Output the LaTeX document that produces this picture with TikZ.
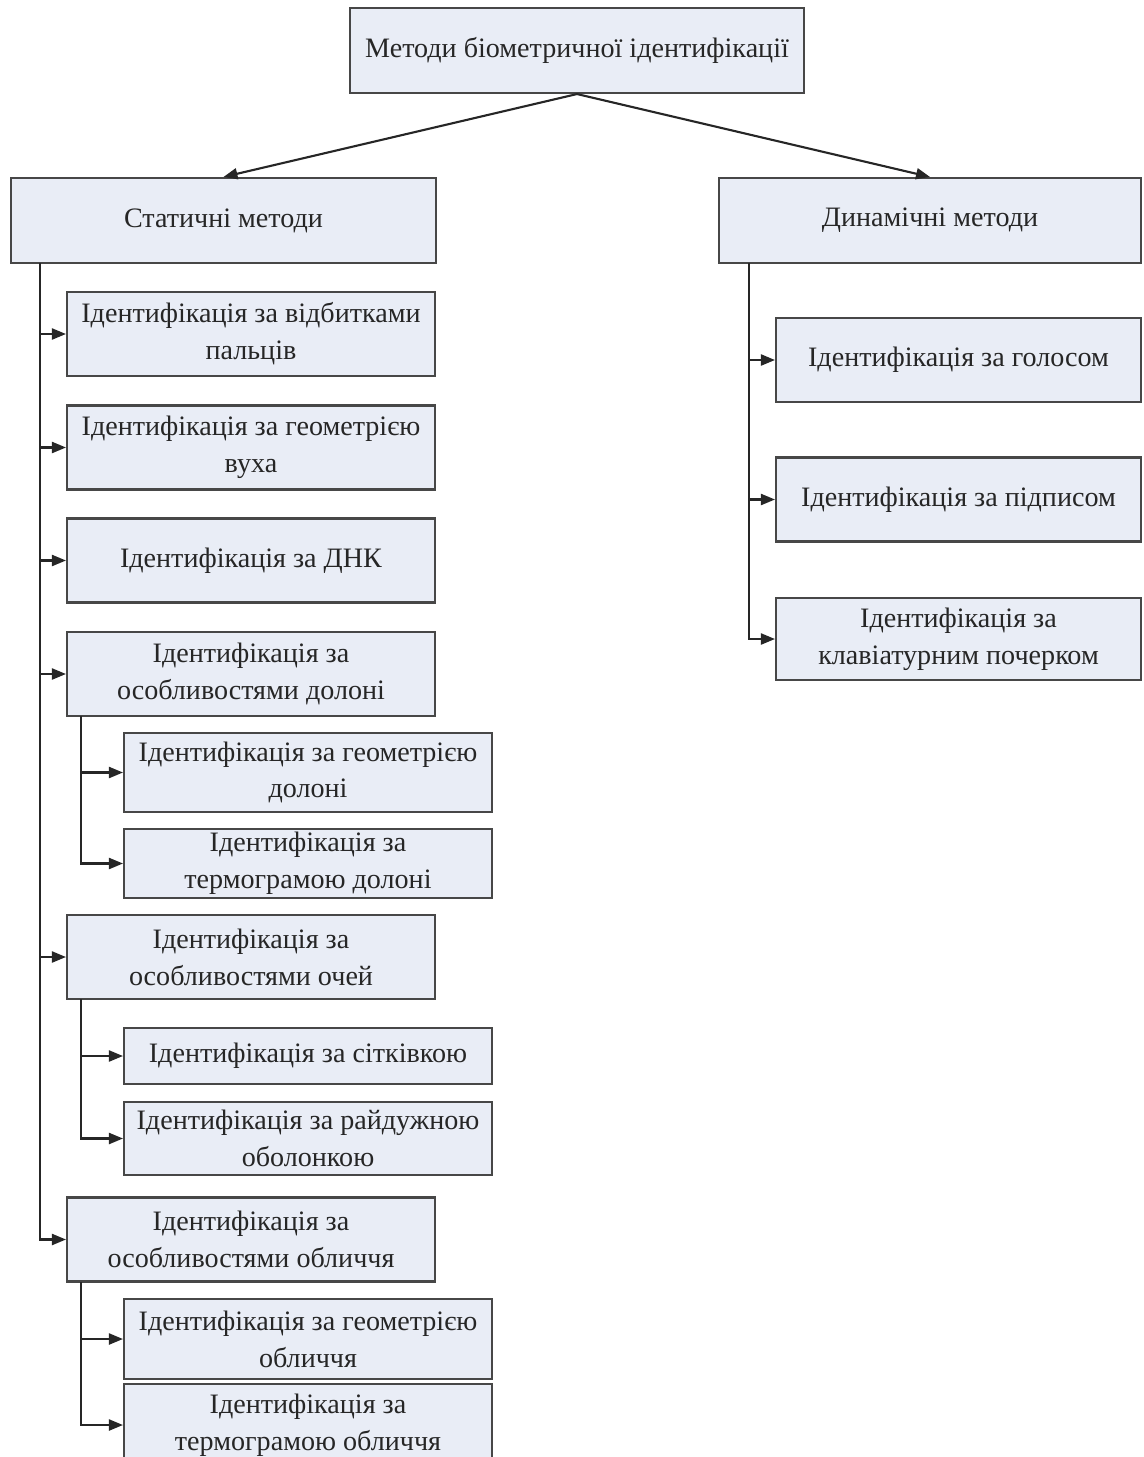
\documentclass[tikz,border=0pt]{standalone}
\usepackage{fontspec}
\setmainfont{Liberation Serif}
\usetikzlibrary{arrows.meta}
\definecolor{boxfill}{HTML}{E9EDF6}
\definecolor{boxline}{HTML}{474747}
\begin{document}
\begin{tikzpicture}[
    x=0.02cm, y=-0.02cm,
    mbox/.style={rectangle, draw=boxline, fill=boxfill, line width=1.2pt,
        minimum height=1.68cm, inner sep=1pt, align=center,
        text=black!85, font=\fontsize{16}{21}\selectfont},
    arr/.style={draw=black!85, line width=1.2pt, -{Triangle[length=2.8mm, width=2.2mm]}}
]
    % Bounding box first, so the cut-off bottom box stays cut off
    \useasboundingbox (0, 0) rectangle (1143, 1457);

    % --- Root ---
    \node[mbox, minimum width=9.08cm, minimum height=1.7cm] (root) at (577, 50.5) {Методи біометричної ідентифікації};

    % --- Static methods ---
    \node[mbox, minimum width=8.5cm, minimum height=1.7cm] (st) at (223.5, 220.5) {Статичні методи};
    \node[mbox, minimum width=7.36cm] (st1) at (251, 334) {Ідентифікація за відбитками\\пальців};
    \node[mbox, minimum width=7.36cm] (st2) at (251, 447.5) {Ідентифікація за геометрією\\вуха};
    \node[mbox, minimum width=7.36cm] (st3) at (251, 560.5) {Ідентифікація за ДНК};
    \node[mbox, minimum width=7.36cm] (st4) at (251, 674) {Ідентифікація за\\особливостями долоні};
    \node[mbox, minimum width=7.36cm, minimum height=1.58cm] (st4a) at (308, 772.5) {Ідентифікація за геометрією\\долоні};
    \node[mbox, minimum width=7.36cm, minimum height=1.38cm] (st4b) at (308, 863.5) {Ідентифікація за\\термограмою долоні};
    \node[mbox, minimum width=7.36cm] (st5) at (251, 957) {Ідентифікація за\\особливостями очей};
    \node[mbox, minimum width=7.36cm, minimum height=1.12cm] (st5a) at (308, 1056) {Ідентифікація за сітківкою};
    \node[mbox, minimum width=7.36cm, minimum height=1.46cm] (st5b) at (308, 1138.5) {Ідентифікація за райдужною\\оболонкою};
    \node[mbox, minimum width=7.36cm] (st6) at (251, 1239.5) {Ідентифікація за\\особливостями обличчя};
    \node[mbox, minimum width=7.36cm, minimum height=1.6cm] (st6a) at (308, 1339) {Ідентифікація за геометрією\\обличчя};
    \node[mbox, minimum width=7.36cm, minimum height=1.64cm] (st6b) at (308, 1425) {Ідентифікація за\\термограмою обличчя};

    % --- Dynamic methods ---
    \node[mbox, minimum width=8.44cm, minimum height=1.7cm] (dy) at (930, 220.5) {Динамічні методи};
    \node[mbox, minimum width=7.3cm] (dy1) at (958.5, 360) {Ідентифікація за голосом};
    \node[mbox, minimum width=7.3cm] (dy2) at (958.5, 499.5) {Ідентифікація за підписом};
    \node[mbox, minimum width=7.3cm, minimum height=1.64cm] (dy3) at (958.5, 639) {Ідентифікація за\\клавіатурним почерком};

    % trunk starts
    \coordinate (stT) at (40, 263);
    \coordinate (st4T) at (81, 716);
    \coordinate (st5T) at (81, 999);
    \coordinate (st6T) at (81, 1282);
    \coordinate (dyT) at (749, 263);

    \draw[arr] (root.south) -- (st.north);
    \draw[arr] (root.south) -- (dy.north);

    \foreach \n in {st1, st2, st3, st4, st5, st6}
        \draw[arr] (stT) |- (\n.west);
    \foreach \n in {st4a, st4b}
        \draw[arr] (st4T) |- (\n.west);
    \foreach \n in {st5a, st5b}
        \draw[arr] (st5T) |- (\n.west);
    \foreach \n in {st6a, st6b}
        \draw[arr] (st6T) |- (\n.west);
    \foreach \n in {dy1, dy2, dy3}
        \draw[arr] (dyT) |- (\n.west);
\end{tikzpicture}
\end{document}
